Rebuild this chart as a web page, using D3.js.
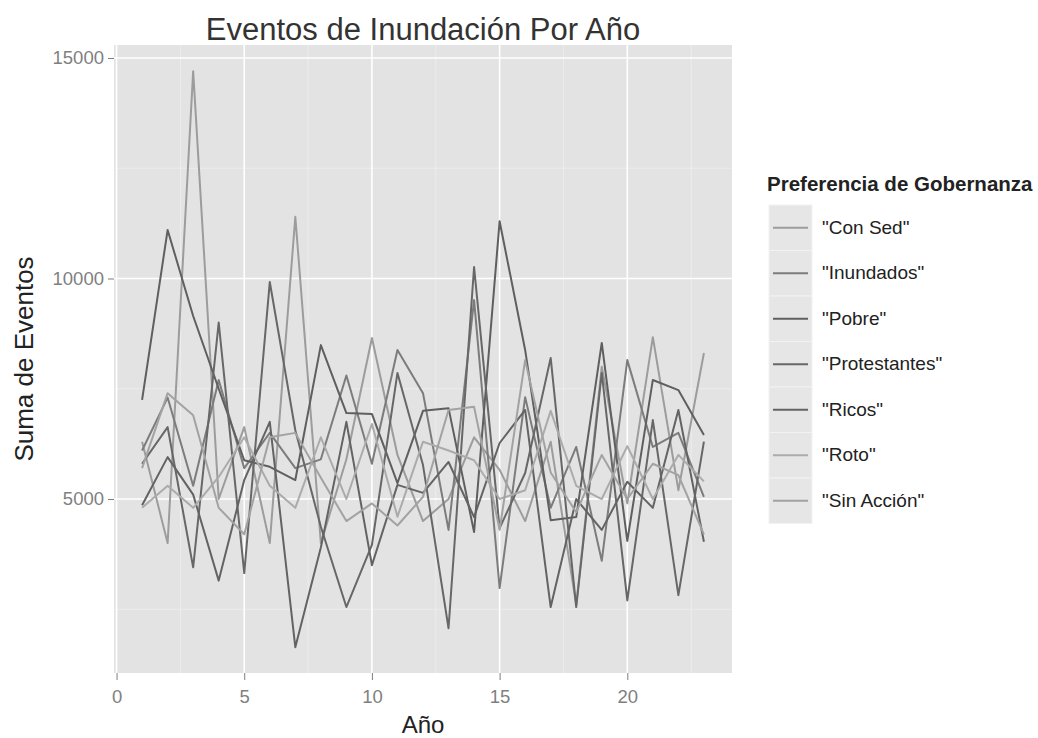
<!DOCTYPE html>
<meta charset="utf-8">
<style>

html, body {
  margin: 0;
  background: #fff;
  font-family: "Liberation Sans", Arial, sans-serif;
}

svg {
  display: block;
}

.grid-major line {
  stroke: #fff;
  stroke-width: 1.6px;
}

.grid-minor line {
  stroke: #f0f0f0;
  stroke-width: 0.8px;
}

.series path {
  fill: none;
  stroke-width: 2px;
  stroke-linejoin: round;
}

.tick-label {
  fill: #7f7f7f;
  font-size: 18.5px;
}

.tick-mark {
  stroke: #7f7f7f;
  stroke-width: 1px;
}

</style>
<svg class="chart"></svg>
<script src="https://d3js.org/d3.v7.min.js"></script>
<script>

var width = 1038;
var height = 738;

var years = d3.range(1, 24);

var seriesNames = ['"Con Sed"', '"Inundados"', '"Pobre"', '"Protestantes"', '"Ricos"', '"Roto"', '"Sin Acción"'];
var seriesColors = ['#9c9c9c', '#7c7c7c', '#5f5f5f', '#676767', '#636363', '#ababab', '#a2a2a2'];

// values, years 1..23
var conSed       = [6300, 4000, 14700, 5000, 6630, 4000, 11400, 4000, 5900, 8650, 6000, 4500, 5000, 6400, 5660, 4500, 6300, 2600, 8000, 4900, 8670, 5200, 8310];
var inundados    = [6100, 7300, 5300, 7700, 5700, 6500, 5700, 5900, 7800, 5800, 8380, 7400, 4300, 9510, 2980, 7310, 4800, 6180, 3600, 8150, 6180, 6500, 5050];
var pobre        = [7250, 11100, 9150, 7500, 5880, 5730, 5430, 8490, 6950, 6930, 5360, 7000, 7060, 4250, 11300, 8380, 4520, 4590, 8540, 4050, 7700, 7470, 6450];
var protestantes = [5800, 6630, 3450, 9000, 3320, 9920, 6560, 4370, 2550, 3960, 7860, 5770, 2070, 10260, 4340, 5590, 8200, 2550, 7860, 2700, 6790, 2820, 6300];
var ricos        = [4860, 5950, 5100, 3150, 5430, 6750, 1640, 3900, 6750, 3500, 5320, 5140, 5840, 4590, 6270, 7020, 2550, 5000, 4300, 5390, 4800, 7020, 4030];
var roto         = [4800, 5300, 4800, 5500, 6400, 5300, 4800, 6400, 5000, 6700, 4600, 6300, 6100, 5880, 5000, 5200, 7000, 5300, 5000, 6200, 5000, 6000, 5400];
var sinAccion    = [5700, 7400, 6900, 4800, 4200, 6400, 6500, 5480, 4500, 4900, 4400, 5050, 7020, 7090, 4300, 8150, 5600, 4700, 6000, 5000, 5800, 5540, 4200];

var seriesValues = [conSed, inundados, pobre, protestantes, ricos, roto, sinAccion];

var xTicks = [0, 5, 10, 15, 20];
var xMinor = [2.5, 7.5, 12.5, 17.5, 22.5];
var yTicks = [5000, 10000, 15000];
var yMinor = [2500, 7500, 12500];

var panel = {left: 114, right: 732, top: 45, bottom: 673};

var svg = d3.select('svg.chart')
  .attr('width', width)
  .attr('height', height);

var x = d3.scaleLinear()
  .domain([-0.1, 24.1])
  .range([panel.left, panel.right]);

var y = d3.scaleLinear()
  .domain([1055, 15295])
  .range([panel.bottom, panel.top]);

// panel background
svg.append('rect')
  .attr('x', panel.left)
  .attr('y', panel.top)
  .attr('width', panel.right - panel.left)
  .attr('height', panel.bottom - panel.top)
  .attr('fill', '#e3e3e3');

var minor = svg.append('g').attr('class', 'grid-minor');
minor.selectAll('line.vx')
  .data(xMinor)
  .enter().append('line')
  .attr('x1', function (d) { return x(d); })
  .attr('x2', function (d) { return x(d); })
  .attr('y1', panel.top)
  .attr('y2', panel.bottom);
minor.selectAll('line.hy')
  .data(yMinor)
  .enter().append('line')
  .attr('x1', panel.left)
  .attr('x2', panel.right)
  .attr('y1', function (d) { return y(d); })
  .attr('y2', function (d) { return y(d); });

var major = svg.append('g').attr('class', 'grid-major');
major.selectAll('line.vx')
  .data(xTicks)
  .enter().append('line')
  .attr('x1', function (d) { return x(d); })
  .attr('x2', function (d) { return x(d); })
  .attr('y1', panel.top)
  .attr('y2', panel.bottom);
major.selectAll('line.hy')
  .data(yTicks)
  .enter().append('line')
  .attr('x1', panel.left)
  .attr('x2', panel.right)
  .attr('y1', function (d) { return y(d); })
  .attr('y2', function (d) { return y(d); });

// lines
var line = d3.line()
  .x(function (d, i) { return x(years[i]); })
  .y(function (d) { return y(d); });

svg.append('g')
  .attr('class', 'series')
  .selectAll('path')
  .data(seriesValues)
  .enter().append('path')
  .attr('stroke', function (d, i) { return seriesColors[i]; })
  .attr('d', line);

// axes
var yAxis = d3.axisLeft(y).tickValues(yTicks).tickFormat(d3.format('d')).tickSize(6).tickPadding(4);
var gy = svg.append('g')
  .attr('transform', 'translate(' + panel.left + ',0)')
  .call(yAxis);

var xAxis = d3.axisBottom(x).tickValues(xTicks).tickSize(7).tickPadding(10);
var gx = svg.append('g')
  .attr('transform', 'translate(0,' + panel.bottom + ')')
  .call(xAxis);

[gx, gy].forEach(function (g) {
  g.select('.domain').remove();
  g.selectAll('.tick line').attr('class', 'tick-mark');
  g.selectAll('.tick text')
    .attr('class', 'tick-label')
    .attr('font-family', null)
    .attr('font-size', null);
});

// titles
svg.append('text')
  .attr('x', (panel.left + panel.right) / 2)
  .attr('y', 40)
  .attr('text-anchor', 'middle')
  .attr('fill', '#333')
  .attr('font-size', 31)
  .text('Eventos de Inundación Por Año');

svg.append('text')
  .attr('x', (panel.left + panel.right) / 2)
  .attr('y', 733)
  .attr('text-anchor', 'middle')
  .attr('fill', '#222')
  .attr('font-size', 24)
  .text('Año');

svg.append('text')
  .attr('transform', 'translate(33,' + (panel.top + panel.bottom) / 2 + ') rotate(-90)')
  .attr('text-anchor', 'middle')
  .attr('fill', '#222')
  .attr('font-size', 26)
  .text('Suma de Eventos');

// legend
var legend = svg.append('g')
  .attr('transform', 'translate(767,0)');

legend.append('text')
  .attr('x', 0)
  .attr('y', 191)
  .attr('font-size', 20.5)
  .attr('font-weight', 'bold')
  .attr('fill', '#222')
  .text('Preferencia de Gobernanza');

var keyH = 45.5;
var keyTop = 205;

var item = legend.selectAll('g.item')
  .data(seriesNames)
  .enter().append('g')
  .attr('class', 'item')
  .attr('transform', function (d, i) { return 'translate(0,' + (keyTop + i * keyH) + ')'; });

item.append('rect')
  .attr('x', 2)
  .attr('y', 0)
  .attr('width', 43)
  .attr('height', keyH)
  .attr('fill', '#e6e6e6')
  .attr('stroke', '#f2f2f2')
  .attr('stroke-width', 1);

item.append('line')
  .attr('x1', 6)
  .attr('x2', 41)
  .attr('y1', keyH / 2)
  .attr('y2', keyH / 2)
  .attr('stroke', function (d, i) { return seriesColors[i]; })
  .attr('stroke-width', 2);

item.append('text')
  .attr('x', 55)
  .attr('y', keyH / 2 + 6)
  .attr('font-size', 19)
  .attr('fill', '#222')
  .text(function (d) { return d; });

</script>
